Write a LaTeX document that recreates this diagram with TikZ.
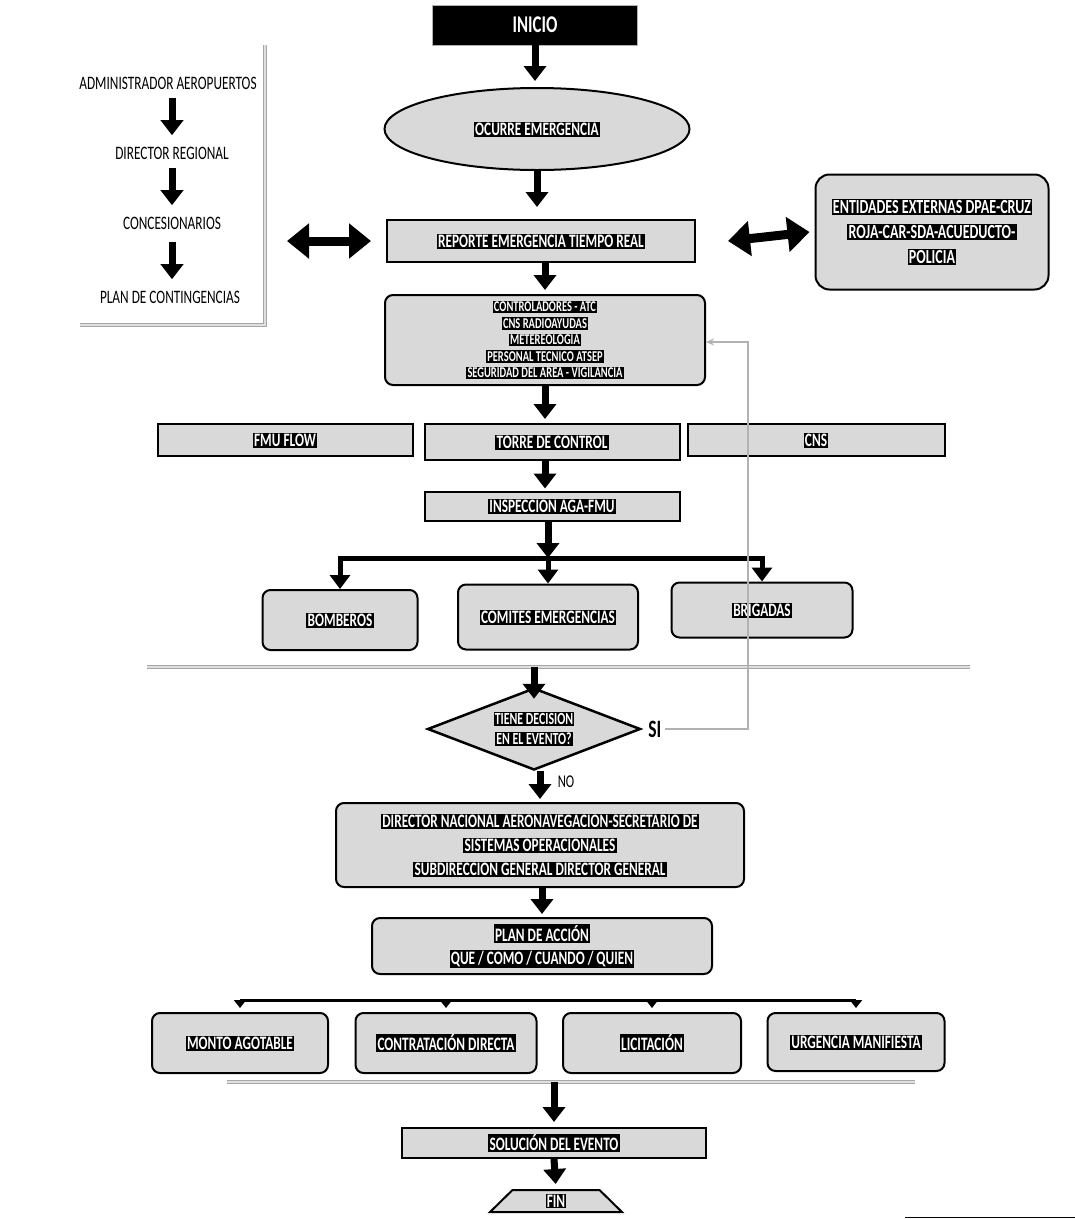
\documentclass[tikz,border=0pt]{standalone}
\usepackage{fontspec}
\setmainfont{Carlito}[FakeStretch=0.7]
\usetikzlibrary{arrows.meta,shapes.geometric,positioning}
\setlength{\fboxsep}{1.2pt}
\newcommand{\hl}[1]{\colorbox{black}{\textcolor{white}{#1}}}

\begin{document}
\begin{tikzpicture}[x=1pt,y=-1pt,
    box/.style={draw=black,line width=2pt,fill=gray!30,align=center,inner sep=2pt,
        font=\fontsize{19}{23}\selectfont\bfseries},
    rbox/.style={box,rounded corners=8pt},
    flow/.style={line width=7pt,-{Triangle[width=22pt,length=15pt]}},
    flowb/.style={line width=5pt,-{Triangle[width=20pt,length=14pt]}},
    small/.style={line width=3pt,-{Triangle[width=12pt,length=8pt]}},
    dbl/.style={line width=9pt,{Triangle[width=34pt,length=22pt]}-{Triangle[width=34pt,length=22pt]}},
    sep/.style={draw=gray!70,line width=1.2pt,double=gray!25,double distance=1.6pt},
    back/.style={draw=gray!60,line width=1.5pt,-{Stealth[length=8pt,width=7pt]}},
    side/.style={font=\fontsize{19}{21}\selectfont}]
    \useasboundingbox (0,0) rectangle (1075,1219);

    % inicio
    \node[fill=black,draw=gray!60,minimum width=205pt,minimum height=40pt,text=white,
        font=\fontsize{24}{26}\selectfont\bfseries] (inicio) at (535,25) {INICIO};
    % ocurre emergencia
    \node[ellipse,box,minimum width=305pt,minimum height=82pt] (emerg) at (537,129) {\hl{OCURRE EMERGENCIA}};
    \draw[flow,shorten >=6pt] (inicio.south) -- (inicio.south |- emerg.north);
    % reporte
    \node[box,minimum width=308pt,minimum height=42pt] (reporte) at (541,241) {\hl{REPORTE EMERGENCIA TIEMPO REAL}};
    \draw[flow,shorten >=12pt] (emerg.south) -- (emerg.south |- reporte.north);

    % left panel
    \node[side] (adm) at (168,83) {ADMINISTRADOR AEROPUERTOS};
    \node[side] (dreg) at (172,153) {DIRECTOR REGIONAL};
    \node[side] (conc) at (172,223) {CONCESIONARIOS};
    \node[side] (pcont) at (170,297) {PLAN DE CONTINGENCIAS};
    \draw[flow,shorten <=5pt,shorten >=8pt] (dreg.north |- adm.south) -- (dreg.north);
    \draw[flow,shorten <=5pt,shorten >=8pt] (dreg.south) -- (dreg.south |- conc.north);
    \draw[flow,shorten <=9pt,shorten >=8pt] (conc.south) -- (conc.south |- pcont.north);
    \coordinate (pnl) at (80,325);
    \coordinate (pnr) at (265,325);
    \coordinate (pnt) at (265,45);
    \draw[sep] (pnl) -- (pnr) -- (pnt);

    % entidades externas
    \node[rbox,rounded corners=14pt,minimum width=233pt,minimum height=115pt,
        font=\fontsize{20}{25}\selectfont\bfseries] (ext) at (932,232)
        {\hl{ENTIDADES EXTERNAS DPAE-CRUZ}\\ \hl{ROJA-CAR-SDA-ACUEDUCTO-}\\ \hl{POLICIA}};
    % double arrows
    \coordinate (dl) at (287,241);
    \draw[dbl] (dl) -- ([xshift=-15pt]reporte.west);
    \draw[dbl] ([xshift=32pt]reporte.east) -- ([xshift=-5pt]ext.west);

    % controladores
    \node[rbox,minimum width=320pt,minimum height=90pt,font=\fontsize{15}{16.5}\selectfont\bfseries] (ctrl) at (545,340)
        {\hl{CONTROLADORES - ATC}\\ \hl{CNS RADIOAYUDAS}\\ \hl{METEREOLOGIA}\\
         \hl{PERSONAL TECNICO ATSEP}\\ \hl{SEGURIDAD DEL AREA - VIGILANCIA}};
    \draw[flow,shorten >=4pt] (reporte.south -| ctrl.south) -- (ctrl.north);

    % fmu, torre, cns
    \node[box,minimum width=255pt,minimum height=32pt] (fmu) at (285,440) {\hl{FMU FLOW}};
    \node[box,minimum width=255pt,minimum height=36pt] (torre) at (552,442) {\hl{TORRE DE CONTROL}};
    \node[box,minimum width=257pt,minimum height=32pt] (cns) at (816,440) {\hl{CNS}};
    \draw[flow,shorten >=4pt] (ctrl.south) -- (ctrl.south |- torre.north);
    % inspeccion
    \node[box,minimum width=255pt,minimum height=29pt] (insp) at (552,506) {\hl{INSPECCION AGA-FMU}};
    \draw[flow,shorten >=2pt] (torre.south -| ctrl.south) -- (ctrl.south |- insp.north);

    % bomberos, comites, brigadas
    \node[rbox,minimum width=155pt,minimum height=60pt] (bomb) at (340,620) {\hl{BOMBEROS}};
    \node[rbox,minimum width=180pt,minimum height=65pt] (comit) at (548,617) {\hl{COMITES EMERGENCIAS}};
    \node[rbox,minimum width=181pt,minimum height=55pt] (brig) at (762,610) {\hl{BRIGADAS}};
    \coordinate (br1) at (548,558);
    \draw[flow] (insp.south -| br1) -- (br1);
    \draw[flowb] (br1) -| (bomb.north);
    \draw[flowb] (br1) -- (comit.north);
    \draw[flowb] (br1) -| (brig.north);

    % separator
    \coordinate (s1a) at (147,667);
    \coordinate (s1b) at (970,667);
    \draw[sep] (s1a) -- (s1b);

    % decision
    \node[diamond,aspect=2.6,draw,line width=2.5pt,fill=gray!30,minimum width=213pt,minimum height=82pt,
        inner sep=0pt,align=center,font=\fontsize{17}{20}\selectfont\bfseries] (dec) at (534,729)
        {\hl{TIENE DECISION}\\ \hl{EN EL EVENTO?}};
    \draw[flow,shorten >=-12pt] (dec.north |- s1a) -- (dec.north);
    \node[anchor=west,font=\fontsize{25}{27}\selectfont\bfseries] (si) at ([xshift=3pt]dec.east) {SI};
    \coordinate (fb) at (748,342);
    \draw[back] (si.east) -| (fb) -- (ctrl.east |- fb);

    % director
    \node[rbox,minimum width=408pt,minimum height=84pt,font=\fontsize{19}{24}\selectfont\bfseries] (dir) at (540,845)
        {\hl{DIRECTOR NACIONAL AERONAVEGACION-SECRETARIO DE}\\ \hl{SISTEMAS OPERACIONALES}\\
         \hl{SUBDIRECCION GENERAL DIRECTOR GENERAL}};
    \draw[flow,shorten >=3pt] (dir.north |- dec.south) -- (dir.north);
    \node[font=\fontsize{18}{20}\selectfont] (no) at (566,782) {NO};
    % plan de accion
    \node[rbox,minimum width=340pt,minimum height=56pt] (plan) at (542,946)
        {\hl{PLAN DE ACCIÓN}\\ \hl{QUE / COMO / CUANDO / QUIEN}};
    \draw[flow,shorten >=3pt] (dir.south -| plan.north) -- (plan.north);

    % monto, contratacion, licitacion, urgencia
    \node[rbox,minimum width=176pt,minimum height=60pt] (monto) at (240,1043) {\hl{MONTO AGOTABLE}};
    \node[rbox,minimum width=181pt,minimum height=60pt] (contr) at (446,1043) {\hl{CONTRATACIÓN DIRECTA}};
    \node[rbox,minimum width=178pt,minimum height=60pt] (lic) at (652,1043) {\hl{LICITACIÓN}};
    \node[rbox,minimum width=177pt,minimum height=58pt] (urg) at (856,1042) {\hl{URGENCIA MANIFIESTA}};
    \coordinate (br2) at (540,1000);
    \draw[line width=3pt] (monto.north |- br2) -- (urg.north |- br2);
    \foreach \b in {monto,contr,lic,urg}
        \draw[small,shorten >=4pt] (\b.north |- br2) -- (\b.north);

    % separator
    \coordinate (s2a) at (227,1082);
    \coordinate (s2b) at (915,1082);
    \draw[sep] (s2a) -- (s2b);

    % solucion
    \node[box,minimum width=304pt,minimum height=30pt] (sol) at (554,1143) {\hl{SOLUCIÓN DEL EVENTO}};
    \draw[flow,shorten >=5pt] (sol.north |- s2a) -- (sol.north);
    % fin
    \node[trapezium,trapezium stretches=true,trapezium left angle=70,trapezium right angle=70,draw,line width=2pt,
        fill=gray!30,minimum width=132pt,minimum height=22pt,inner sep=0pt,font=\fontsize{19}{21}\selectfont\bfseries]
        (fin) at (556,1201) {\hl{FIN}};
    \draw[flow,shorten >=5pt] (sol.south) -- (fin.north);

    % line bottom right
    \coordinate (bl) at (905,1217);
    \coordinate (br) at (1075,1217);
    \draw[line width=1pt] (bl) -- (br);
\end{tikzpicture}
\end{document}
